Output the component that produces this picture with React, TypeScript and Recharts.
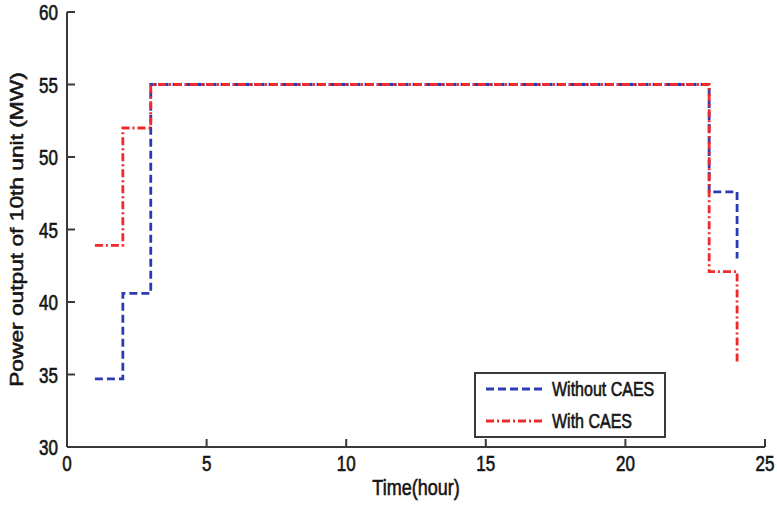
import { LineChart, Line, XAxis, YAxis, Legend, Label } from "recharts";

// hour index, one value per hour (stairs: value holds until the next hour)
const hours = [1, 2, 3, 4, 5, 6, 7, 8, 9, 10, 11, 12, 13, 14, 15, 16, 17, 18, 19, 20, 21, 22, 23, 24];
const withoutCaes = [34.7, 40.6, 55, 55, 55, 55, 55, 55, 55, 55, 55, 55, 55, 55, 55, 55, 55, 55, 55, 55, 55, 55, 47.6, 43.0];
const withCaes = [43.9, 52.0, 55, 55, 55, 55, 55, 55, 55, 55, 55, 55, 55, 55, 55, 55, 55, 55, 55, 55, 55, 55, 42.1, 35.8];

const xTicks = [0, 5, 10, 15, 20, 25];
const yTicks = [30, 35, 40, 45, 50, 55, 60];

const BLUE = "#2b3bb3";
const RED = "#f02a2a";
const AXIS = "#3a3a3a";
const INK = "#151515";
const FONT = "'Liberation Sans', Arial, sans-serif";
const STRETCH = 1.25; // the source figure is squashed horizontally
const TL = 8; // inward tick length

const PLOT_LEFT = 67;
const PLOT_TOP = 12;
const PLOT_RIGHT = 765;
const PLOT_BOTTOM = 447;

const data = hours.map((h, i) => ({ hour: h, without: withoutCaes[i], with: withCaes[i] }));

// text a bit heavier than regular, like the scanned figure
const textStyle = { fontFamily: FONT, fill: INK, stroke: INK, strokeWidth: 0.5 };
const axisLine = { stroke: AXIS, strokeWidth: 2 };

function BottomTick({ x, payload }: any) {
    return (
        <g>
            <rect x={x - 1} y={PLOT_BOTTOM - TL} width={2} height={TL} fill={AXIS} />
            <text
                transform={`translate(${x},${PLOT_BOTTOM + 24}) scale(1,${STRETCH})`}
                textAnchor="middle"
                fontSize={17}
                {...textStyle}
            >
                {payload.value}
            </text>
        </g>
    );
}

function LeftTick({ y, payload }: any) {
    return (
        <g>
            <rect x={PLOT_LEFT} y={y - 1} width={TL} height={2} fill={AXIS} />
            <text
                transform={`translate(${PLOT_LEFT - 9},${y + 8}) scale(1,${STRETCH})`}
                textAnchor="end"
                fontSize={17}
                {...textStyle}
            >
                {payload.value}
            </text>
        </g>
    );
}

function TopTick({ x }: any) {
    return <rect x={x - 1} y={PLOT_TOP} width={2} height={TL} fill={AXIS} />;
}

function RightTick({ y }: any) {
    return <rect x={PLOT_RIGHT - TL} y={y - 1} width={TL} height={2} fill={AXIS} />;
}

function LegendBox() {
    return (
        <svg width={192} height={66}>
            <rect x={1} y={1} width={190} height={64} fill="#fff" stroke={AXIS} strokeWidth={2} />
            <line x1={12} y1={17} x2={68} y2={17} stroke={BLUE} strokeWidth={2.8} strokeDasharray="8 4" />
            <text transform={`translate(78,24) scale(1,${STRETCH})`} fontSize={16} {...textStyle}>
                Without CAES
            </text>
            <line x1={12} y1={49} x2={68} y2={49} stroke={RED} strokeWidth={2.8} strokeDasharray="8 3 2 3" />
            <text transform={`translate(78,56) scale(1,${STRETCH})`} fontSize={16} {...textStyle}>
                With CAES
            </text>
        </svg>
    );
}

export default function App() {
    return (
        <div style={{ position: "absolute", left: 0, top: 0, background: "#fff" }}>
            <LineChart
                width={777}
                height={505}
                data={data}
                margin={{ top: PLOT_TOP, right: 777 - PLOT_RIGHT, bottom: 0, left: 0 }}
            >
                <XAxis
                    dataKey="hour"
                    type="number"
                    domain={[0, 25]}
                    ticks={xTicks}
                    interval={0}
                    height={505 - PLOT_BOTTOM}
                    tickLine={false}
                    axisLine={axisLine}
                    tick={(p: any) => <BottomTick {...p} />}
                >
                    <Label
                        content={({ viewBox }: any) => (
                            <text
                                transform={`translate(${viewBox.x + viewBox.width / 2},${viewBox.y + 48}) scale(1,${STRETCH})`}
                                textAnchor="middle"
                                fontSize={18}
                                {...textStyle}
                            >
                                Time(hour)
                            </text>
                        )}
                    />
                </XAxis>
                <XAxis
                    xAxisId="top"
                    orientation="top"
                    dataKey="hour"
                    type="number"
                    domain={[0, 25]}
                    ticks={xTicks}
                    interval={0}
                    height={0}
                    tickLine={false}
                    axisLine={axisLine}
                    tick={(p: any) => <TopTick {...p} />}
                />
                <YAxis
                    type="number"
                    domain={[30, 60]}
                    ticks={yTicks}
                    interval={0}
                    width={PLOT_LEFT}
                    tickLine={false}
                    axisLine={axisLine}
                    tick={(p: any) => <LeftTick {...p} />}
                >
                    <Label
                        content={({ viewBox }: any) => (
                            <text
                                transform={`translate(${viewBox.x + 17},${viewBox.y + viewBox.height / 2}) rotate(-90) scale(1.3,1)`}
                                textAnchor="middle"
                                dominantBaseline="central"
                                fontSize={17.5}
                                {...textStyle}
                            >
                                Power output of 10th unit (MW)
                            </text>
                        )}
                    />
                </YAxis>
                <YAxis
                    yAxisId="right"
                    orientation="right"
                    type="number"
                    domain={[30, 60]}
                    ticks={yTicks}
                    interval={0}
                    width={0}
                    tickLine={false}
                    axisLine={axisLine}
                    tick={(p: any) => <RightTick {...p} />}
                />
                <Line
                    type="stepAfter"
                    dataKey="without"
                    name="Without CAES"
                    stroke={BLUE}
                    strokeWidth={2.8}
                    strokeDasharray="8 4"
                    dot={false}
                    isAnimationActive={false}
                />
                <Line
                    type="stepAfter"
                    dataKey="with"
                    name="With CAES"
                    stroke={RED}
                    strokeWidth={2.8}
                    strokeDasharray="8 3 2 3"
                    dot={false}
                    isAnimationActive={false}
                />
                <Legend
                    layout="vertical"
                    align="center"
                    verticalAlign="middle"
                    wrapperStyle={{ left: 474, top: 372, width: 192, height: 66 }}
                    content={() => <LegendBox />}
                />
            </LineChart>
        </div>
    );
}
